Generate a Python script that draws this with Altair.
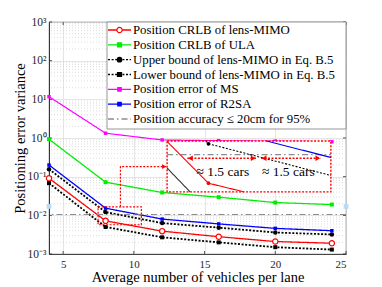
import altair as alt
import numpy as np
import pandas as pd

# ---------------- data ----------------
vehicles = [4, 8, 12, 16, 20, 24]
crlb_lens = [0.091, 0.0072, 0.0039, 0.0028, 0.0021, 0.0019]
crlb_ula = [0.93, 0.072, 0.039, 0.0295, 0.0214, 0.019]
upper_lens = [0.156, 0.0121, 0.0063, 0.0048, 0.0036, 0.0032]
lower_lens = [0.068, 0.0050, 0.0027, 0.0020, 0.0015, 0.0013]
err_ms = [11.7, 1.33, 0.89, 0.85, 0.83, 0.80]
err_r2sa = [0.20, 0.0153, 0.0080, 0.0060, 0.0046, 0.0040]
threshold = 0.0105
edge_x = [4, 25]
edge_y = [0.017, 0.017]

labels = [
    "Position CRLB of lens-MIMO",
    "Position CRLB of ULA",
    "Upper bound of lens-MIMO in Eq. B.5",
    "Lower bound of lens-MIMO in Eq. B.5",
    "Position error of MS",
    "Position error of R2SA",
    "Position accuracy \u2264 20cm for 95%",
]
x_ticks = [5, 10, 15, 20, 25]
y_ticks = [1e-3, 1e-2, 1e-1, 1e0, 1e1, 1e2, 1e3]

# zoom-in annotation (data coordinates)
src_x = [7.47, 10.53]
src_y = [0.0057, 0.0166]
inset_box_x = [12.35, 23.93]
inset_box_y = [0.0405, 0.84]
inset_x_dom = [7.135, 10.56]
inset_y_dom = [10 ** -2.192, 10 ** -1.901]
connector_x = [9.05, 9.05, 12.35]
connector_y = [0.0166, 0.182, 0.182]
arrow_y = 0.0100
arrow_pairs = [(7.56, 9.0), (9.1, 10.35)]
note_x = [8.3, 9.67]
note_y = [0.00836, 0.00836]
note_text = ["\u2248 1.5 cars", "\u2248 1.5 cars"]

# ---------------- layout ----------------
W, H = 297, 232
FONT = "Liberation Serif"
AX = "#262626"
GRID = "#dedede"
MINOR = "#cfcfcf"

series = [
    dict(name=labels[0], y=crlb_lens, color="#ff0000", dash=[1, 0], width=1.3, shape="circle", filled=False, size=28),
    dict(name=labels[1], y=crlb_ula, color="#00ee00", dash=[1, 0], width=1.3, shape="square", filled=True, size=16),
    dict(name=labels[2], y=upper_lens, color="#000000", dash=[2, 1.6], width=1.8, shape="circle", filled=True, size=20),
    dict(name=labels[3], y=lower_lens, color="#000000", dash=[2, 1.6], width=1.8, shape="square", filled=True, size=16),
    dict(name=labels[4], y=err_ms, color="#ff00ff", dash=[1, 0], width=1.2, shape="square", filled=True, size=12),
    dict(name=labels[5], y=err_r2sa, color="#0000ff", dash=[1, 0], width=1.3, shape="square", filled=True, size=12),
]
thr_color = "#8c8c8c"
thr_dash = [6, 3, 1.5, 3]

xs = alt.Scale(domain=[4, 25], nice=False, zero=False)
ys = alt.Scale(type="log", domain=[1e-3, 1e3], nice=False)

xax = alt.Axis(values=x_ticks, grid=True, gridColor=GRID, gridWidth=0.8, ticks=False,
               domainColor=AX, domainWidth=0.8, labelFont=FONT, labelFontSize=11,
               labelColor=AX, labelPadding=4, title="Average number of vehicles per lane",
               titleFont=FONT, titleFontSize=14.5, titleFontWeight="normal", titleColor="#000000",
               titlePadding=1)
yax = alt.Axis(values=y_ticks, grid=True, gridColor=GRID, gridWidth=0.8, ticks=False,
               domainColor=AX, domainWidth=0.8, labelFont=FONT, labelFontSize=11.5,
               labelColor=AX, labelPadding=3,
               labelExpr="'10' + ['\u207b\u00b3','\u207b\u00b2','\u207b\u00b9','\u2070','\u00b9','\u00b2','\u00b3'][round(log(datum.value)/LN10)+3]",
               title="Positioning error variance", titleFont=FONT, titleFontSize=14.5,
               titleFontWeight="normal", titleColor="#000000", titlePadding=0)

X = lambda: alt.X("x:Q", scale=xs, axis=xax)
Y = lambda: alt.Y("y:Q", scale=ys, axis=yax)

# minor log grid
minor_vals = [m * 10.0 ** e for e in range(-3, 3) for m in range(2, 10)]
minor_df = pd.DataFrame({"y": minor_vals})
minor = alt.Chart(minor_df).mark_rule(color=MINOR, strokeWidth=0.7, strokeDash=[1, 2]).encode(y=Y())

# inward tick marks (MATLAB style) on the four sides
TK = 3
xt_df = pd.DataFrame({"x": x_ticks})
yt_df = pd.DataFrame({"y": y_ticks})
ticks = [
    alt.Chart(xt_df).mark_rule(color=AX, strokeWidth=0.8).encode(x=X(), y=alt.value(H), y2=alt.value(H - TK)),
    alt.Chart(xt_df).mark_rule(color=AX, strokeWidth=0.8).encode(x=X(), y=alt.value(0), y2=alt.value(TK)),
    alt.Chart(yt_df).mark_rule(color=AX, strokeWidth=0.8).encode(y=Y(), x=alt.value(0), x2=alt.value(TK)),
    alt.Chart(yt_df).mark_rule(color=AX, strokeWidth=0.8).encode(y=Y(), x=alt.value(W), x2=alt.value(W - TK)),
]

main_layers = [minor] + ticks
for s in series:
    df = pd.DataFrame({"x": vehicles, "y": s["y"]})
    main_layers.append(
        alt.Chart(df).mark_line(color=s["color"], strokeWidth=s["width"], strokeDash=s["dash"]).encode(x=X(), y=Y())
    )
    main_layers.append(
        alt.Chart(df).mark_point(shape=s["shape"], filled=s["filled"], size=s["size"], color=s["color"],
                                 fill=s["color"] if s["filled"] else "white", opacity=1, strokeWidth=1.2)
        .encode(x=X(), y=Y())
    )

thr = alt.Chart(pd.DataFrame({"y": [threshold]})).mark_rule(color=thr_color, strokeWidth=1.2, strokeDash=thr_dash).encode(y=Y())
edge = alt.Chart(pd.DataFrame({"x": edge_x, "y": edge_y})).mark_point(
    shape="square", size=22, color="#2f7fc1", fill="#b9daf5", filled=True, strokeWidth=1, opacity=1
).encode(x=X(), y=Y())

red_dot = [2, 1.5]
src = alt.Chart(pd.DataFrame({"x": [src_x[0]], "x2": [src_x[1]], "y": [src_y[0]], "y2": [src_y[1]]})).mark_rect(
    fill=None, stroke="#ff0000", strokeWidth=1.2, strokeDash=red_dot
).encode(x=X(), x2="x2:Q", y=Y(), y2="y2:Q")

conn = alt.Chart(pd.DataFrame({"x": connector_x, "y": connector_y, "o": [0, 1, 2]})).mark_line(
    color="#ff0000", strokeWidth=1.2, strokeDash=red_dot
).encode(x=X(), y=Y(), order="o:Q")
conn_head = alt.Chart(pd.DataFrame({"x": [connector_x[-1]], "y": [connector_y[-1]]})).mark_point(
    shape="triangle-right", size=22, filled=True, color="#ff0000", opacity=1, xOffset=-3
).encode(x=X(), y=Y())

box = alt.Chart(pd.DataFrame({"x": [inset_box_x[0]], "x2": [inset_box_x[1]], "y": [inset_box_y[0]], "y2": [inset_box_y[1]]})).mark_rect(
    fill="white", stroke="#ff0000", strokeWidth=1.4, strokeDash=red_dot
).encode(x=X(), x2="x2:Q", y=Y(), y2="y2:Q")

main_layers += [thr, edge, src, conn, conn_head, box]
main = alt.layer(*main_layers)

# ---------------- inset (own scales placed over the box) ----------------
def px(v):
    return (v - 4) / 21 * W


def py(v):
    return (3 - np.log10(v)) / 6 * H


ixs = alt.Scale(domain=inset_x_dom, range=[px(inset_box_x[0]), px(inset_box_x[1])], nice=False, zero=False)
iys = alt.Scale(type="log", domain=inset_y_dom, range=[py(inset_box_y[0]), py(inset_box_y[1])], nice=False)
IX = lambda f="x": alt.X(f + ":Q", scale=ixs, axis=None)
IY = lambda f="y": alt.Y(f + ":Q", scale=iys, axis=None)


def clip_segments(xv, yv):
    lo_x, hi_x = inset_x_dom
    lo_y, hi_y = np.log10(inset_y_dom[0]), np.log10(inset_y_dom[1])
    out = []
    for i in range(len(xv) - 1):
        x0, y0 = xv[i], np.log10(yv[i])
        x1, y1 = xv[i + 1], np.log10(yv[i + 1])
        dx, dy = x1 - x0, y1 - y0
        t0, t1 = 0.0, 1.0
        ok = True
        for p, q in [(-dx, x0 - lo_x), (dx, hi_x - x0), (-dy, y0 - lo_y), (dy, hi_y - y0)]:
            if p == 0:
                if q < 0:
                    ok = False
            else:
                r = q / p
                if p < 0:
                    t0 = max(t0, r)
                else:
                    t1 = min(t1, r)
        if ok and t0 < t1:
            out.append(dict(x=x0 + t0 * dx, y=10 ** (y0 + t0 * dy), x2=x0 + t1 * dx, y2=10 ** (y0 + t1 * dy)))
    return out


inset_layers = []
thr_in = alt.Chart(pd.DataFrame({"x": [inset_x_dom[0]], "x2": [inset_x_dom[1]], "y": [threshold]})).mark_rule(
    color=thr_color, strokeWidth=1.2, strokeDash=thr_dash
).encode(x=IX(), x2="x2:Q", y=IY())
inset_layers.append(thr_in)
inset_styles = {labels[0]: [1, 0], labels[2]: [2, 1.6], labels[3]: [1, 0], labels[5]: [1, 0]}
inset_cols = {labels[0]: "#ff0000", labels[2]: "#000000", labels[3]: "#333333", labels[5]: "#0000ff"}
for s in series:
    if s["name"] not in inset_styles:
        continue
    segs = clip_segments(vehicles, s["y"])
    if segs:
        inset_layers.append(
            alt.Chart(pd.DataFrame(segs)).mark_rule(color=inset_cols[s["name"]], strokeWidth=1.1,
                                                    strokeDash=inset_styles[s["name"]])
            .encode(x=IX(), x2="x2:Q", y=IY(), y2="y2:Q")
        )
    pts = [(a, b) for a, b in zip(vehicles, s["y"]) if inset_x_dom[0] <= a <= inset_x_dom[1] and inset_y_dom[0] <= b <= inset_y_dom[1]]
    if pts:
        inset_layers.append(
            alt.Chart(pd.DataFrame(pts, columns=["x", "y"])).mark_point(
                shape="circle", size=14, filled=True, color=inset_cols[s["name"]], opacity=1
            ).encode(x=IX(), y=IY())
        )

arr_df = pd.DataFrame({"x": [a for a, b in arrow_pairs], "x2": [b for a, b in arrow_pairs], "y": [arrow_y] * len(arrow_pairs)})
inset_layers.append(
    alt.Chart(arr_df).mark_rule(color="#ff0000", strokeWidth=1.5, strokeDash=[2, 1.5]).encode(x=IX(), x2="x2:Q", y=IY())
)
inset_layers.append(
    alt.Chart(arr_df).mark_point(shape="triangle-left", size=30, filled=True, color="#ff0000", opacity=1, xOffset=3)
    .encode(x=IX(), y=IY())
)
inset_layers.append(
    alt.Chart(arr_df).mark_point(shape="triangle-right", size=30, filled=True, color="#ff0000", opacity=1, xOffset=-3)
    .encode(x=IX("x2"), y=IY())
)
inset_layers.append(
    alt.Chart(pd.DataFrame({"x": note_x, "y": note_y, "t": note_text})).mark_text(
        font=FONT, fontSize=13.5, color="#000000", align="center", baseline="middle"
    ).encode(x=IX(), y=IY(), text="t:N")
)
inset = alt.layer(*inset_layers)

# ---------------- legend ----------------
leg_df = pd.DataFrame({
    "row": list(range(len(labels))),
    "label": labels,
    "color": [s["color"] for s in series] + [thr_color],
    "style": ["solid", "solid", "dot", "dot", "solid", "solid", "dashdot"],
    "shape": [s["shape"] for s in series] + ["circle"],
    "fill": [s["color"] if s["filled"] else "white" for s in series] + ["white"],
    "size": [s["size"] for s in series] + [0],
})
LY = alt.Y("row:Q", scale=alt.Scale(domain=[0, 6], range=[8, 97]), axis=None)
leg_box = alt.Chart(pd.DataFrame({"a": [0]})).mark_rect(fill="white", stroke="#8a8a8a", strokeWidth=0.9).encode(
    x=alt.value(58), x2=alt.value(W), y=alt.value(0), y2=alt.value(107)
)
leg_line = alt.Chart(leg_df).mark_rule(strokeWidth=1.3).encode(
    x=alt.value(59), x2=alt.value(82), y=LY,
    color=alt.Color("color:N", scale=None),
    strokeDash=alt.StrokeDash("style:N", scale=alt.Scale(domain=["solid", "dot", "dashdot"], range=[[1, 0], [2, 1.6], thr_dash]), legend=None),
)
leg_pts = alt.Chart(leg_df[leg_df["size"] > 0]).mark_point(filled=True, opacity=1, strokeWidth=1.2).encode(
    x=alt.value(70.5), y=LY,
    stroke=alt.Stroke("color:N", scale=None),
    fill=alt.Fill("fill:N", scale=None),
    shape=alt.Shape("shape:N", scale=None),
    size=alt.Size("size:Q", scale=None),
)
leg_txt = alt.Chart(leg_df).mark_text(font=FONT, fontSize=12.8, align="left", baseline="middle", color="#000000").encode(
    x=alt.value(84), y=LY, text="label:N"
)
legend = alt.layer(leg_box, leg_line, leg_pts, leg_txt)

chart = (
    alt.layer(main, inset, legend)
    .resolve_scale(x="independent", y="independent")
    .properties(width=W, height=H, padding={"left": 41, "top": 14, "right": 20, "bottom": 33},
                autosize=alt.AutoSizeParams(type="none"))
    .configure_view(stroke=AX, strokeWidth=0.8)
)

chart.save("out.html", embed_options={"renderer": "svg", "actions": False})
